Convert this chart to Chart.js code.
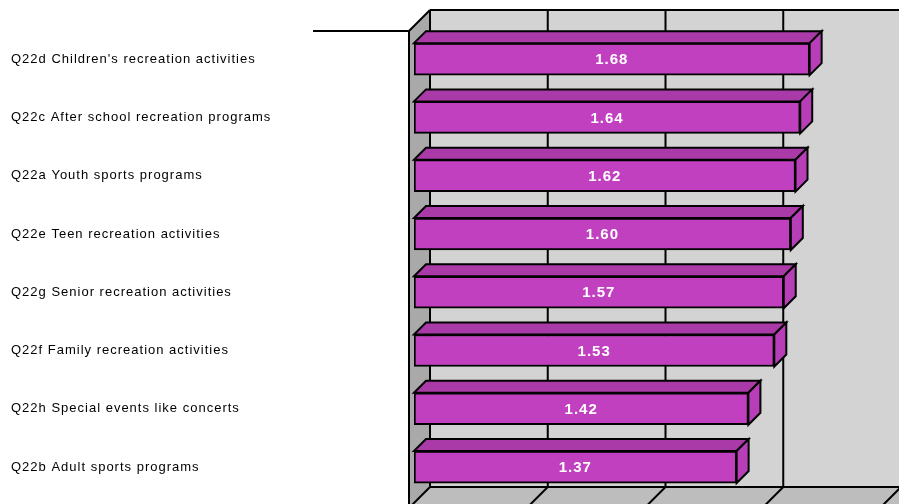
<!DOCTYPE html>
<html>
<head>
<meta charset="utf-8">
<script src="https://cdn.jsdelivr.net/npm/chart.js@4/dist/chart.umd.min.js"></script>
<style>
  body { margin: 0; background: #fff; }
  #wrap { width: 899px; height: 504px; }
</style>
</head>
<body>
<div id="wrap"><canvas id="chart" width="899" height="504"></canvas></div>
<script>
const categories = [
    'Q22d Children\'s recreation activities',
    'Q22c After school recreation programs',
    'Q22a Youth sports programs',
    'Q22e Teen recreation activities',
    'Q22g Senior recreation activities',
    'Q22f Family recreation activities',
    'Q22h Special events like concerts',
    'Q22b Adult sports programs'
];
const values = [1.68, 1.64, 1.62, 1.60, 1.57, 1.53, 1.42, 1.37];
const gridValues = [0, 0.5, 1, 1.5, 2];

// 3d look: walls, floor and bar faces drawn around the chart.js bars
const depth = 21;      // wall depth offset (px)
const barDepth = 12;   // bar depth offset (px)

const wall3d = {
    id: 'wall3d',
    beforeDraw(chart) {
        chart.ctx.letterSpacing = '1px';
    },
    beforeDatasetsDraw(chart) {
        const ctx = chart.ctx;
        const a = chart.chartArea;
        const xs = chart.scales.x;
        const fl = a.left - 5;          // front left of wall
        const ft = 31;                  // front top
        const fb = 508;                 // front bottom
        const bl = fl + depth, bt = ft - depth, bb = fb - depth;
        const br = xs.getPixelForValue(2) - 5 + depth;
        ctx.save();
        // back wall
        ctx.fillStyle = '#d3d3d3';
        ctx.fillRect(bl, bt, br - bl + 20, bb - bt);
        // floor
        ctx.fillStyle = '#bdbdbd';
        ctx.beginPath();
        ctx.moveTo(fl, fb); ctx.lineTo(bl, bb); ctx.lineTo(br + 20, bb); ctx.lineTo(br + 20 - depth, fb);
        ctx.closePath(); ctx.fill();
        // left wall
        ctx.fillStyle = '#a9a9a9';
        ctx.beginPath();
        ctx.moveTo(fl, ft); ctx.lineTo(bl, bt); ctx.lineTo(bl, bb); ctx.lineTo(fl, fb);
        ctx.closePath(); ctx.fill();

        ctx.strokeStyle = '#000';
        ctx.lineWidth = 2;
        ctx.beginPath();
        // top edge of back wall and bottom edge
        ctx.moveTo(bl, bt); ctx.lineTo(br + 20, bt);
        ctx.moveTo(bl, bb); ctx.lineTo(br + 20, bb);
        // left wall edges
        ctx.moveTo(fl, ft); ctx.lineTo(bl, bt);
        ctx.moveTo(fl, ft); ctx.lineTo(fl, fb + 5);
        // line out to the left at the top
        ctx.moveTo(fl - 96, ft); ctx.lineTo(fl, ft);
        // gridlines on back wall and floor
        gridValues.forEach(v => {
            const gx = xs.getPixelForValue(v) - 5 + depth;
            ctx.moveTo(gx, bt); ctx.lineTo(gx, bb);
            ctx.moveTo(gx, bb); ctx.lineTo(gx - depth, fb);
        });
        ctx.stroke();
        ctx.restore();
    },
    afterDatasetsDraw(chart) {
        const ctx = chart.ctx;
        const meta = chart.getDatasetMeta(0);
        ctx.save();
        ctx.strokeStyle = '#000';
        ctx.lineWidth = 2;
        ctx.lineJoin = 'miter';
        meta.data.forEach((bar, i) => {
            const top = bar.y - bar.height / 2;
            const bottom = bar.y + bar.height / 2;
            const x0 = bar.base, x1 = bar.x;
            // top face
            ctx.fillStyle = '#a93aa8';
            ctx.beginPath();
            ctx.moveTo(x0, top); ctx.lineTo(x0 + barDepth, top - barDepth);
            ctx.lineTo(x1 + barDepth, top - barDepth); ctx.lineTo(x1, top);
            ctx.closePath(); ctx.fill(); ctx.stroke();
            // side face
            ctx.fillStyle = '#b83eb8';
            ctx.beginPath();
            ctx.moveTo(x1, top); ctx.lineTo(x1 + barDepth, top - barDepth);
            ctx.lineTo(x1 + barDepth, bottom - barDepth); ctx.lineTo(x1, bottom);
            ctx.closePath(); ctx.fill(); ctx.stroke();
            // value label
            ctx.fillStyle = '#fff';
            ctx.font = 'bold 15px "Liberation Sans", Arial, sans-serif';
            ctx.textAlign = 'center';
            ctx.textBaseline = 'middle';
            ctx.fillText(values[i].toFixed(2), (x0 + x1) / 2, bar.y + 1);
        });
        ctx.restore();
    }
};

new Chart(document.getElementById('chart'), {
    type: 'bar',
    data: {
        labels: categories,
        datasets: [{
            data: values,
            backgroundColor: '#c040c0',
            borderColor: '#000',
            borderWidth: 2,
            borderSkipped: false,
            barThickness: 32
        }]
    },
    options: {
        indexAxis: 'y',
        responsive: false,
        animation: false,
        layout: { padding: { left: 11, top: 30, right: 14, bottom: 1 } },
        plugins: { legend: { display: false }, tooltip: { enabled: false } },
        scales: {
            x: {
                display: false,
                min: 0,
                max: 2,
                afterBuildTicks: axis => { axis.ticks = gridValues.map(v => ({ value: v })); }
            },
            y: {
                grid: { display: false },
                border: { display: false },
                ticks: {
                    crossAlign: 'far',
                    color: '#000',
                    padding: 0,
                    font: { family: '"Liberation Sans", Arial, sans-serif', size: 13 }
                },
                afterFit: axis => { axis.width = 403; }
            }
        }
    },
    plugins: [wall3d]
});
</script>
</body>
</html>
